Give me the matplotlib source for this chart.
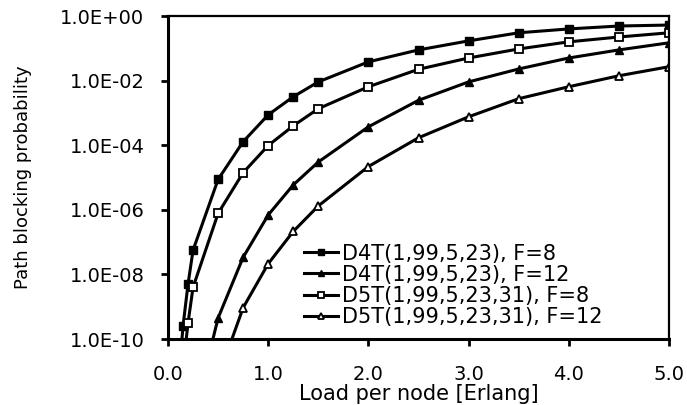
import numpy as np
import matplotlib
matplotlib.use('Agg')
from matplotlib import pyplot as plt
from matplotlib.ticker import FixedLocator, FixedFormatter, NullLocator

plt.rcParams['font.family'] = ['DejaVu Sans']

# valores (log10 da probabilidade)
carga_d4t_f8 = [0.1, 0.15, 0.2, 0.25, 0.5, 0.75, 1.0, 1.25, 1.5, 2.0, 2.5, 3.0, 3.5, 4.0, 4.5, 5.0]
log_d4t_f8 = [-11.5, -9.6, -8.3, -7.25, -5.06, -3.89, -3.06, -2.5, -2.04, -1.42, -1.05, -0.77, -0.52, -0.40, -0.31, -0.28]

carga_d5t_f8 = [0.1, 0.15, 0.2, 0.25, 0.5, 0.75, 1.0, 1.25, 1.5, 2.0, 2.5, 3.0, 3.5, 4.0, 4.5, 5.0]
log_d5t_f8 = [-12.6, -10.9, -9.5, -8.4, -6.11, -4.85, -4.01, -3.40, -2.87, -2.19, -1.65, -1.30, -1.02, -0.80, -0.65, -0.52]

carga_d4t_f12 = [0.25, 0.5, 0.75, 1.0, 1.25, 1.5, 2.0, 2.5, 3.0, 3.5, 4.0, 4.5, 5.0]
log_d4t_f12 = [-12.5, -9.35, -7.47, -6.16, -5.23, -4.52, -3.43, -2.61, -2.04, -1.64, -1.30, -1.05, -0.83]

carga_d5t_f12 = [0.5, 0.75, 1.0, 1.25, 1.5, 2.0, 2.5, 3.0, 3.5, 4.0, 4.5, 5.0]
log_d5t_f12 = [-11.2, -9.03, -7.67, -6.67, -5.88, -4.66, -3.77, -3.12, -2.56, -2.19, -1.85, -1.57]

rotulos = ['D4T(1,99,5,23), F=8', 'D4T(1,99,5,23), F=12',
           'D5T(1,99,5,23,31), F=8', 'D5T(1,99,5,23,31), F=12']

yticks = [1e0, 1e-2, 1e-4, 1e-6, 1e-8, 1e-10]
ytick_labels = ['1.0E+00', '1.0E-02', '1.0E-04', '1.0E-06', '1.0E-08', '1.0E-10']
xticks = [0.0, 1.0, 2.0, 3.0, 4.0, 5.0]
xtick_labels = ['0.0', '1.0', '2.0', '3.0', '4.0', '5.0']

fig = plt.figure(figsize=(6.87, 4.05), dpi=100)
ax = fig.add_axes([168/687, 1-339/405, 501/687, 323/405])

lw = 2.2
ms = 5.8
ax.plot(carga_d4t_f8, 10**np.array(log_d4t_f8), color='black', lw=lw,
        marker='s', ms=ms, mfc='black', mec='black', label=rotulos[0])
ax.plot(carga_d4t_f12, 10**np.array(log_d4t_f12), color='black', lw=lw,
        marker='^', ms=ms, mfc='black', mec='black', label=rotulos[1])
ax.plot(carga_d5t_f8, 10**np.array(log_d5t_f8), color='black', lw=lw,
        marker='s', ms=ms, mfc='white', mec='black', mew=1.3, label=rotulos[2])
ax.plot(carga_d5t_f12, 10**np.array(log_d5t_f12), color='black', lw=lw,
        marker='^', ms=ms, mfc='white', mec='black', mew=1.3, label=rotulos[3])

ax.set_yscale('log')
ax.set_ylim(1e-10, 1e0)
ax.set_xlim(0, 5)
ax.yaxis.set_major_locator(FixedLocator(yticks))
ax.yaxis.set_major_formatter(FixedFormatter(ytick_labels))
ax.yaxis.set_minor_locator(NullLocator())
ax.set_xticks(xticks)
ax.set_xticklabels(xtick_labels)

for s in ax.spines.values():
    s.set_linewidth(1.6)
ax.spines['left'].set_linewidth(2.2)
ax.spines['bottom'].set_linewidth(2.2)
ax.tick_params(direction='out', length=5, width=2, labelsize=14)
ax.tick_params(axis='x', pad=14)
ax.tick_params(axis='y', pad=12)

ax.set_xlabel('Load per node [Erlang]', fontsize=15, labelpad=0)
ax.set_ylabel('Path blocking probability', fontsize=13, labelpad=20)

leg = ax.legend(loc='upper left', bbox_to_anchor=(0.272, 0.295), frameon=False,
                fontsize=15, handlelength=1.6, handletextpad=0.2,
                labelspacing=0.05, borderaxespad=0, borderpad=0,
                markerscale=0.7)

fig.savefig('out.png', dpi=100)
